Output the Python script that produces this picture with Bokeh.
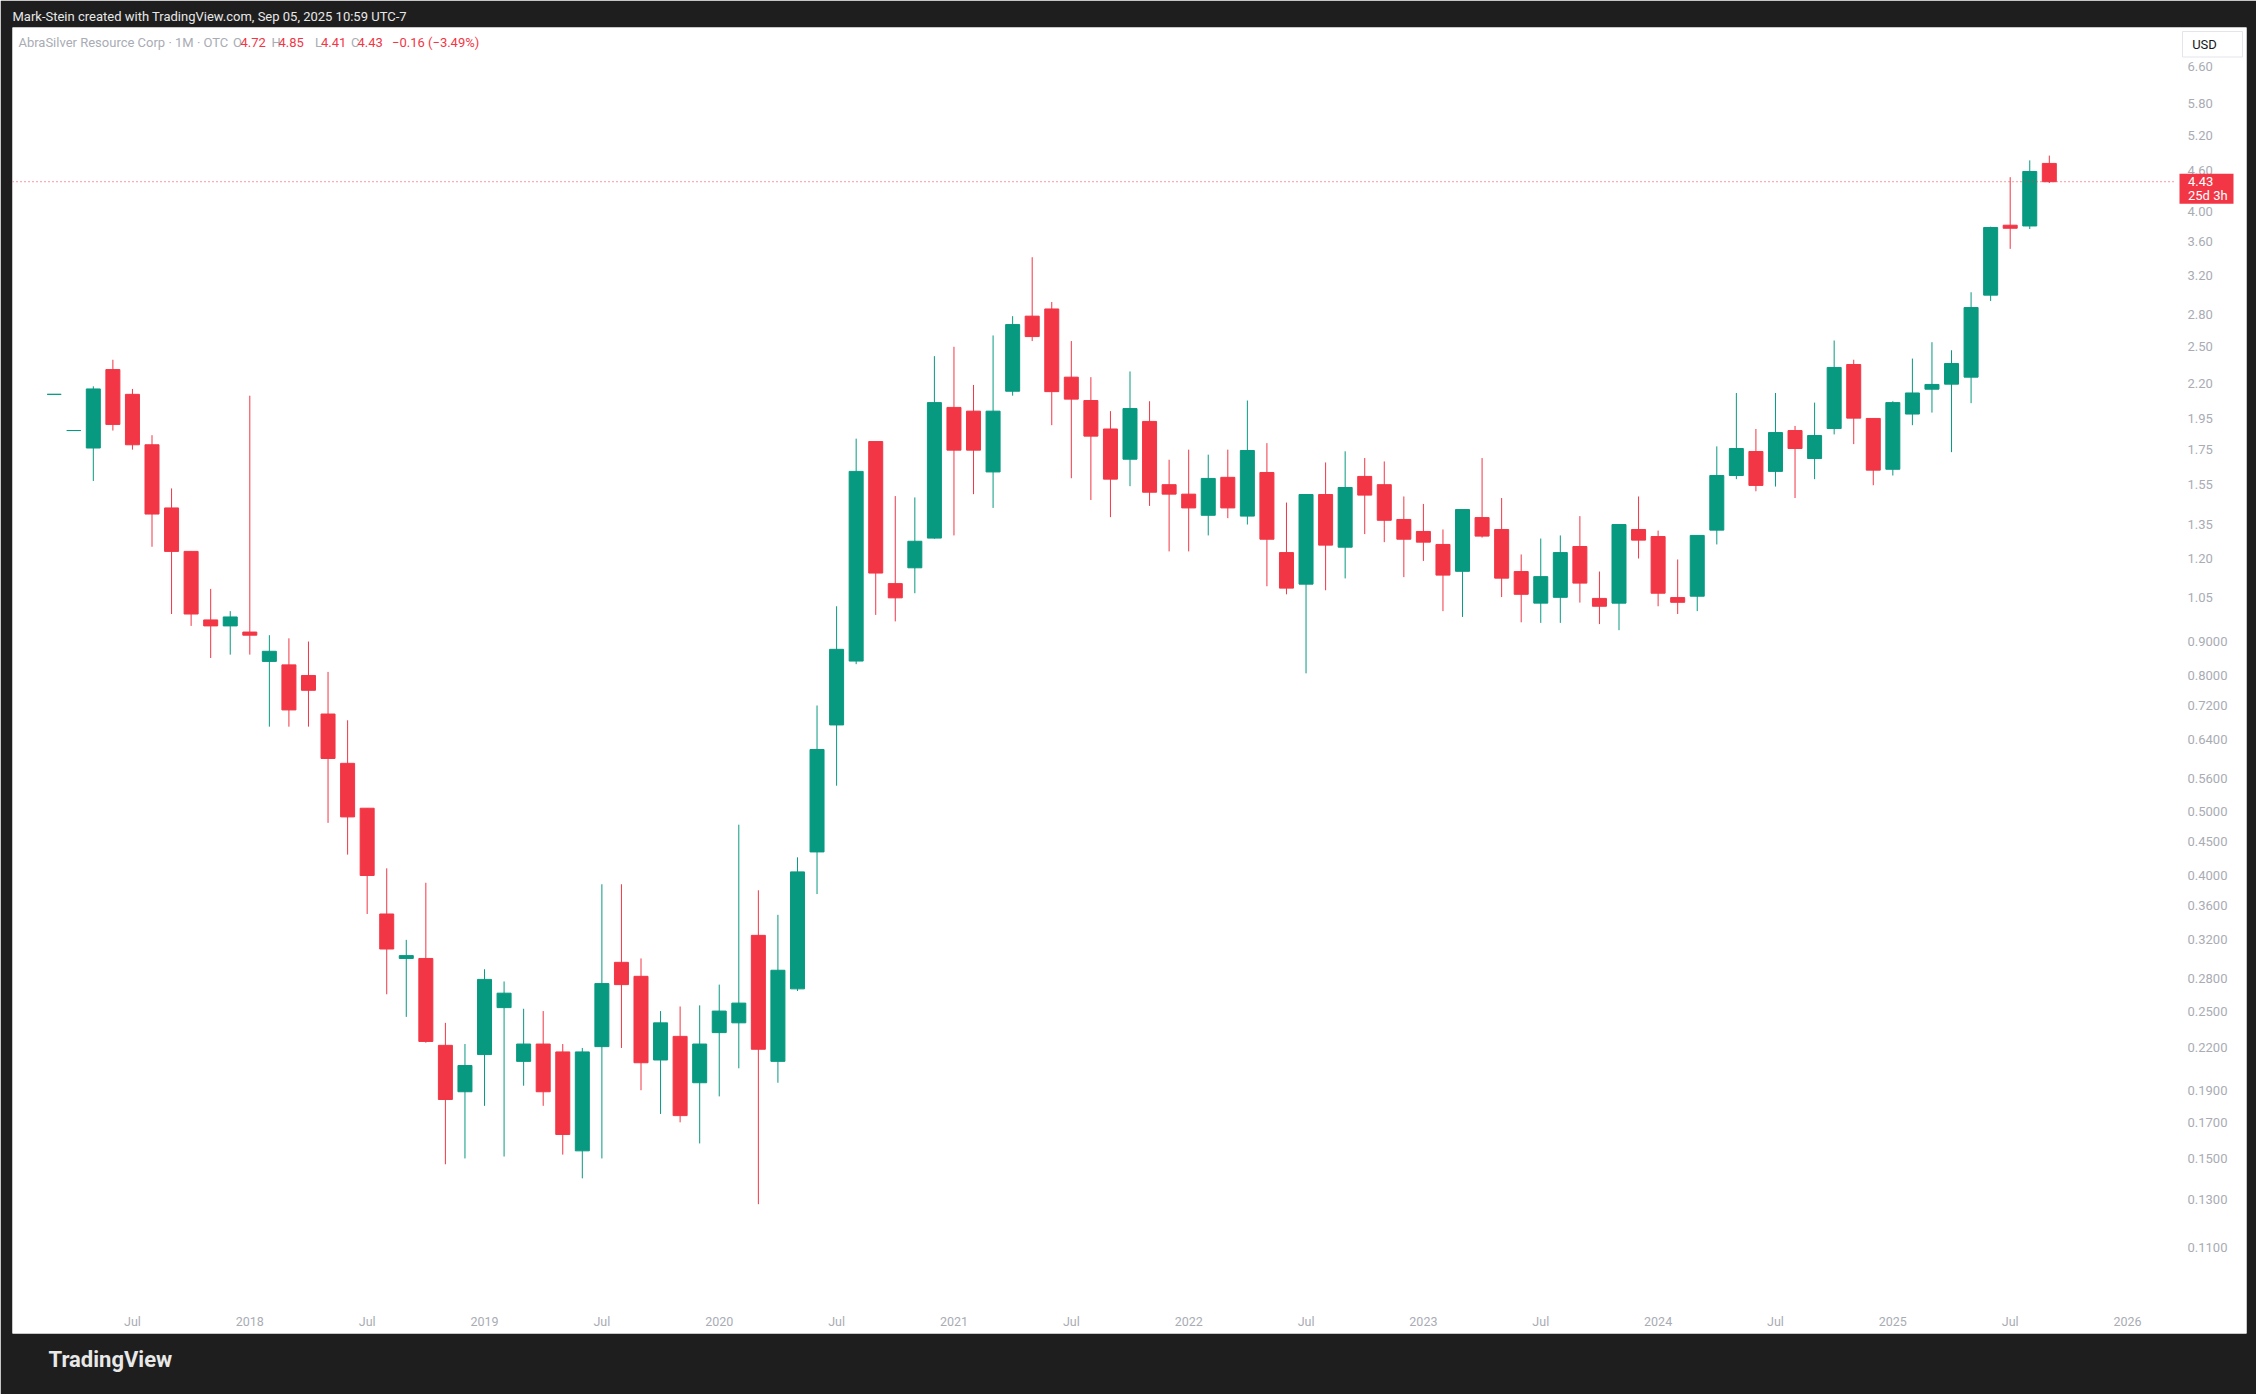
import math
from bokeh.plotting import figure
from bokeh.models import (Range1d, LogScale, LogAxis, LinearAxis, FixedTicker,
                          CustomJSTickFormatter, ColumnDataSource, Title)
from bokeh.embed import file_html
from bokeh.resources import INLINE
from bokeh.core.properties import value

# ---------------- data (monthly candles, Mar 2017 .. Sep 2025) ----------------
months = [f"{y}-{m:02d}" for y in range(2017, 2026) for m in range(1, 13)][2:2 + 103]

opens = [
    2.12, 1.87, 1.76, 2.31, 2.12, 1.78, 1.43, 1.23, 0.97, 0.95,
    0.93, 0.84, 0.83, 0.80, 0.70, 0.59, 0.505, 0.35, 0.300, 0.30, 0.222, 0.189,
    0.215, 0.253, 0.210, 0.223, 0.217, 0.154, 0.221, 0.296, 0.282, 0.211, 0.229, 0.195,
    0.232, 0.240, 0.325, 0.210, 0.270, 0.434, 0.674, 0.841, 1.80, 1.10, 1.162, 1.288,
    2.026, 2.00, 1.62, 2.143, 2.78, 2.85, 2.25, 2.075, 1.88, 1.693, 1.93, 1.55,
    1.50, 1.394, 1.59, 1.39, 1.617, 1.225, 1.098, 1.498, 1.248, 1.595, 1.55, 1.374,
    1.318, 1.26, 1.148, 1.383, 1.327, 1.147, 1.028, 1.049, 1.251, 1.045, 1.028, 1.327,
    1.295, 1.048, 1.053, 1.324, 1.60, 1.739, 1.623, 1.87, 1.697, 1.883, 2.351, 1.95,
    1.635, 1.98, 2.158, 2.196, 2.25, 2.99, 3.81, 3.80, 4.72,
]
highs = [
    2.12, 1.87, 2.18, 2.39, 2.16, 1.84, 1.53, 1.23, 1.08, 1.00,
    2.11, 0.92, 0.91, 0.90, 0.81, 0.685, 0.505, 0.41, 0.32, 0.39, 0.240, 0.223,
    0.289, 0.277, 0.252, 0.250, 0.223, 0.220, 0.388, 0.388, 0.300, 0.250, 0.254, 0.255,
    0.274, 0.477, 0.380, 0.349, 0.426, 0.721, 1.017, 1.818, 1.80, 1.49, 1.483, 2.42,
    2.50, 2.19, 2.60, 2.78, 3.41, 2.92, 2.55, 2.25, 2.00, 2.295, 2.07, 1.69,
    1.75, 1.72, 1.75, 2.075, 1.79, 1.457, 1.50, 1.674, 1.74, 1.70, 1.68, 1.488,
    1.45, 1.327, 1.422, 1.70, 1.48, 1.217, 1.286, 1.30, 1.39, 1.147, 1.35, 1.488,
    1.322, 1.196, 1.30, 1.77, 2.13, 1.88, 2.13, 1.90, 2.06, 2.555, 2.39, 1.95,
    2.07, 2.40, 2.54, 2.47, 3.02, 3.79, 4.50, 4.77, 4.85,
]
lows = [
    2.12, 1.87, 1.57, 1.87, 1.75, 1.25, 0.99, 0.95, 0.85, 0.86,
    0.86, 0.67, 0.67, 0.67, 0.48, 0.43, 0.35, 0.265, 0.245, 0.224, 0.147, 0.150,
    0.180, 0.151, 0.193, 0.180, 0.152, 0.140, 0.150, 0.220, 0.190, 0.175, 0.170, 0.158,
    0.186, 0.205, 0.128, 0.195, 0.268, 0.375, 0.546, 0.832, 0.987, 0.965, 1.064, 1.285,
    1.30, 1.50, 1.43, 2.11, 2.55, 1.905, 1.585, 1.47, 1.385, 1.542, 1.44, 1.23,
    1.23, 1.30, 1.38, 1.35, 1.09, 1.06, 0.806, 1.075, 1.12, 1.306, 1.27, 1.125,
    1.19, 1.00, 0.98, 1.29, 1.05, 0.962, 0.96, 0.96, 1.03, 0.956, 0.936, 1.20,
    1.017, 0.99, 1.00, 1.26, 1.58, 1.515, 1.54, 1.48, 1.58, 1.845, 1.784, 1.547,
    1.60, 1.905, 1.99, 1.735, 2.056, 2.93, 3.51, 3.76, 4.41,
]
closes = [
    2.12, 1.87, 2.16, 1.91, 1.78, 1.40, 1.23, 0.99, 0.95, 0.98,
    0.92, 0.87, 0.71, 0.76, 0.60, 0.49, 0.40, 0.31, 0.303, 0.225, 0.184, 0.207,
    0.279, 0.266, 0.223, 0.189, 0.163, 0.217, 0.275, 0.274, 0.209, 0.240, 0.174, 0.223,
    0.250, 0.257, 0.219, 0.288, 0.405, 0.619, 0.876, 1.623, 1.141, 1.047, 1.274, 2.06,
    1.747, 1.747, 2.00, 2.70, 2.59, 2.14, 2.085, 1.834, 1.58, 2.018, 1.51, 1.50,
    1.43, 1.584, 1.43, 1.745, 1.283, 1.083, 1.498, 1.257, 1.535, 1.495, 1.37, 1.283,
    1.27, 1.133, 1.422, 1.297, 1.121, 1.06, 1.127, 1.225, 1.102, 1.017, 1.35, 1.279,
    1.064, 1.031, 1.30, 1.60, 1.757, 1.546, 1.857, 1.757, 1.838, 2.327, 1.952, 1.63,
    2.06, 2.13, 2.194, 2.359, 2.864, 3.78, 3.77, 4.59, 4.43,
]

last_price = 4.43
last_price_texts = ["4.43", "25d 3h"]

y_tick_values = [6.6, 5.8, 5.2, 4.6, 4.0, 3.6, 3.2, 2.8, 2.5, 2.2, 1.95, 1.75, 1.55,
                 1.35, 1.2, 1.05, 0.9, 0.8, 0.72, 0.64, 0.56, 0.5, 0.45, 0.4, 0.36,
                 0.32, 0.28, 0.25, 0.22, 0.19, 0.17, 0.15, 0.13, 0.11]
y_tick_labels = ["6.60", "5.80", "5.20", "4.60", "4.00", "3.60", "3.20", "2.80", "2.50",
                 "2.20", "1.95", "1.75", "1.55", "1.35", "1.20", "1.05", "0.9000",
                 "0.8000", "0.7200", "0.6400", "0.5600", "0.5000", "0.4500", "0.4000",
                 "0.3600", "0.3200", "0.2800", "0.2500", "0.2200", "0.1900", "0.1700",
                 "0.1500", "0.1300", "0.1100"]

x_tick_months = ["2017-07", "2018-01", "2018-07", "2019-01", "2019-07", "2020-01",
                 "2020-07", "2021-01", "2021-07", "2022-01", "2022-07", "2023-01",
                 "2023-07", "2024-01", "2024-07", "2025-01", "2025-07", "2026-01"]
x_tick_labels = ["Jul", "2018", "Jul", "2019", "Jul", "2020", "Jul", "2021", "Jul",
                 "2022", "Jul", "2023", "Jul", "2024", "Jul", "2025", "Jul", "2026"]

legend_parts = ["AbraSilver Resource Corp \u00b7 1M \u00b7 OTC", "O", "4.72", "H", "4.85",
                "L", "4.41", "C", "4.43", "\u22120.16 (\u22123.49%)"]
legend_is_value = [False, False, True, False, True, False, True, False, True, True]

header_text = "Mark-Stein created with TradingView.com, Sep 05, 2025 10:59 UTC-7"

# ---------------- styling / layout helpers ----------------
UP = "#089981"
DOWN = "#f23645"
FRAME_BG = "#1e1e1e"
AXIS_TXT = "#a9acb4"
FONT = "Roboto"

W, H = 2256, 1394


def month_index(s):
    y, m = s.split("-")
    return (int(y) - 2017) * 12 + (int(m) - 3)


# screen pixel -> data coordinates (used only for placing layout text/boxes)
def ix(px):
    return 10 + (px - 249.3) / 19.56


def py(px):
    return math.exp(math.log(6.6) - (px - 66.2) / 288.5)


x = [month_index(mo) for mo in months]
colors = [UP if c >= o else DOWN for o, c in zip(opens, closes)]
src = ColumnDataSource(dict(
    x=x, open=opens, high=highs, low=lows, close=closes,
    top=[max(o, c) for o, c in zip(opens, closes)],
    bottom=[min(o, c) for o, c in zip(opens, closes)],
    color=colors,
))

p = figure(width=W, height=H, output_backend="svg", toolbar_location=None,
           x_range=Range1d(ix(12), ix(2246)), y_range=Range1d(py(1333), py(27)),
           x_axis_location=None, y_axis_location=None,
           min_border_left=12, min_border_right=10, min_border_top=27, min_border_bottom=61,
           background_fill_color="white", border_fill_color=FRAME_BG,
           outline_line_color=None)
p.y_scale = LogScale()
p.grid.visible = False

# header
p.title.text = header_text
p.title.text_color = "#e8e8e8"
p.title.text_font = FONT
p.title.text_font_size = "13px"
p.title.text_font_style = "normal"
p.title.standoff = 4
p.title.vertical_align = "top"
p.title.offset = 0

# footer
foot = Title(text="TradingView", text_color="#e8e8e8", text_font=FONT,
             text_font_size="22px", text_font_style="bold", align="left",
             offset=36, standoff=26, vertical_align="top")
p.add_layout(foot, "below")

# candles
p.segment(x0="x", y0="low", x1="x", y1="high", line_color="color", line_width=1, source=src)
p.vbar(x="x", width=0.716, top="top", bottom="bottom", fill_color="color",
       line_color="color", line_width=1, source=src)

# last price line
p.segment(x0=[ix(12)], x1=[ix(2176)], y0=[last_price], y1=[last_price],
          line_color=DOWN, line_width=1, line_dash="1 3")

# axes
y_fmt = CustomJSTickFormatter(args=dict(vals=y_tick_values, labs=y_tick_labels), code="""
const i = vals.findIndex(v => Math.abs(v - tick) < 1e-9);
return i >= 0 ? labs[i] : '';
""")
yax = LogAxis(ticker=FixedTicker(ticks=y_tick_values), formatter=y_fmt,
              fixed_location=ix(2187), axis_line_color=None,
              major_tick_line_color=None, minor_tick_line_color=None,
              major_tick_out=0, major_tick_in=0, major_label_standoff=0,
              major_label_text_font=FONT, major_label_text_font_size="13px",
              major_label_text_color=AXIS_TXT)
p.add_layout(yax, "right")

x_pos = [month_index(m) for m in x_tick_months]
x_fmt = CustomJSTickFormatter(args=dict(vals=x_pos, labs=x_tick_labels), code="""
const i = vals.findIndex(v => Math.abs(v - tick) < 1e-9);
return i >= 0 ? labs[i] : '';
""")
xax = LinearAxis(ticker=FixedTicker(ticks=x_pos), formatter=x_fmt,
                 fixed_location=py(1313), axis_line_color=None,
                 major_tick_line_color=None, minor_tick_line_color=None,
                 major_tick_out=0, major_tick_in=0, major_label_standoff=0,
                 major_label_text_font=FONT, major_label_text_font_size="12.5px",
                 major_label_text_color=AXIS_TXT)
p.add_layout(xax, "below")

# USD box
p.quad(left=[ix(2182)], right=[ix(2242)], top=[py(31)], bottom=[py(56.5)],
       fill_color="white", line_color="#e3e5ea", line_width=1)
p.text(x=[ix(2204)], y=[py(44)], text=["USD"], text_font=value(FONT),
       text_font_size="13px", text_color="#131722", text_align="center",
       text_baseline="middle")

# last price box
box = p.quad(left=[ix(2179)], right=[ix(2233)], top=[py(173.3)], bottom=[py(203.3)],
             fill_color=DOWN, line_color=None)
box.level = "overlay"
t1 = p.text(x=[ix(2187.5)], y=[last_price], text=[last_price_texts[0]],
            text_font=value(FONT), text_font_size="13px", text_color="white",
            text_align="left", text_baseline="middle")
t1.level = "overlay"
t2 = p.text(x=[ix(2187.5)], y=[last_price], text=[last_price_texts[1]], y_offset=14,
            text_font=value(FONT), text_font_size="13px", text_color="white",
            text_align="left", text_baseline="middle")
t2.level = "overlay"

# legend line (symbol + OHLC)
legend_px = [17.9, 232.5, 240, 271, 278, 314.5, 320.5, 350.5, 357, 391.5]
lsrc = ColumnDataSource(dict(
    x=[ix(v) for v in legend_px], y=[py(41.7)] * len(legend_parts), text=legend_parts,
    color=[DOWN if v else "#a9acb4" for v in legend_is_value],
))
p.text(x="x", y="y", text="text", text_color="color", source=lsrc,
       text_font=value(FONT), text_font_size="13px", text_align="left",
       text_baseline="middle")

open("out.html", "w").write(file_html(p, INLINE))
